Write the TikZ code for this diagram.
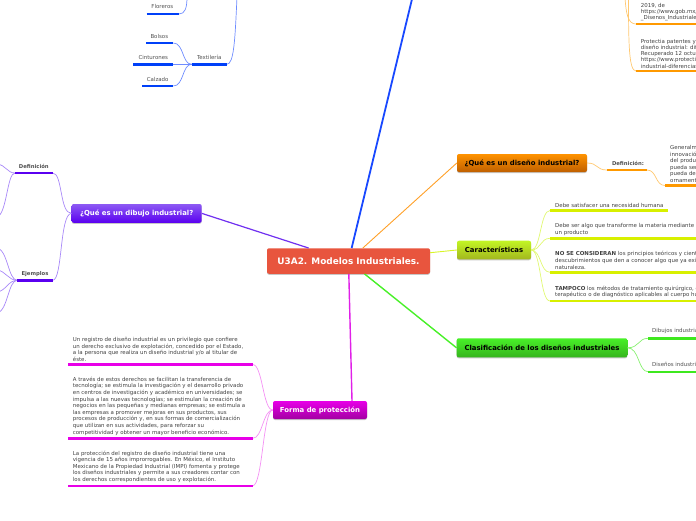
\documentclass[tikz,border=0pt]{standalone}
\usepackage{fontspec}
\setmainfont{DejaVu Sans}
\definecolor{cred}{HTML}{E8553E}
\definecolor{txtc}{HTML}{404040}
\definecolor{lblc}{HTML}{505050}
% main connector colours
\definecolor{mblue}{HTML}{1848FF}
\definecolor{morange}{HTML}{FFA028}
\definecolor{myellow}{HTML}{D8F428}
\definecolor{mgreen}{HTML}{48F028}
\definecolor{mmag}{HTML}{E020E8}
\definecolor{mpurple}{HTML}{7030F0}
% light connector colours
\definecolor{lblue}{HTML}{6E8CFF}
\definecolor{lorange}{HTML}{FFC870}
\definecolor{lyellow}{HTML}{E0F870}
\definecolor{lgreen}{HTML}{88F070}
\definecolor{lmag}{HTML}{F490F4}
\definecolor{lpurple}{HTML}{A888F8}
% underline colours
\definecolor{ublue}{HTML}{0040F8}
\definecolor{uorange}{HTML}{FF9900}
\definecolor{uyellow}{HTML}{D8F000}
\definecolor{ugreen}{HTML}{3EE81E}
\definecolor{umag}{HTML}{E800E8}
\definecolor{upurple}{HTML}{5A00F0}
\begin{document}
\begin{tikzpicture}[x=1pt,y=-1pt,
  para/.style={inner sep=0pt, anchor=south west, align=left, font=\fontsize{5.45}{6.6}\selectfont, text=txtc},
  paratr/.style={para, font=\fontsize{5.45}{6.1}\selectfont},
  lbl/.style={inner sep=0pt, anchor=base, font=\fontsize{5.45}{6}\selectfont, text=lblc},
  blbl/.style={lbl, font=\fontsize{5.3}{6}\selectfont\bfseries},
  ul/.style={line width=2.4pt},
  mainline/.style={line width=1.2pt},
  sub/.style={line width=0.7pt},
  topic/.style={rounded corners=2pt, inner sep=0pt, align=center,
     font=\fontsize{6.9}{7.5}\selectfont\bfseries,
     preaction={fill=black!22, transform canvas={yshift=-1pt}}},
]
\useasboundingbox (0,0) rectangle (696,520);
\clip (0,0) rectangle (696,520);

% ---------- topic nodes ----------
\node[topic, fill=cred, text=white, minimum width=163pt, minimum height=25.5pt,
      font=\fontsize{8.9}{10}\selectfont\bfseries] (c) at (348.5,261) {U3A2. Modelos Industriales.};
\node[topic, top color=orange!85!yellow, bottom color=orange!75!black, minimum width=130pt, minimum height=18pt, text=black] (qdi) at (522,163) {¿Qué es un diseño industrial?};
\node[topic, top color=myellow!90!green, bottom color=myellow!75!black, minimum width=74pt, minimum height=18.6pt, text=black] (car) at (494,250) {Características};
\node[topic, top color=mgreen, bottom color=mgreen!75!black, minimum width=170.6pt, minimum height=19pt, text=black] (cla) at (542,347.8) {Clasificación de los diseños industriales};
\node[topic, top color=umag, bottom color=umag!70!black, minimum width=94pt, minimum height=18pt, text=white] (fp) at (320,410) {Forma de protección};
\node[topic, top color=mpurple!80!white, bottom color=upurple, minimum width=130pt, minimum height=18.7pt, text=white] (qdb) at (136.7,213.4) {¿Qué es un dibujo industrial?};

% ---------- main connectors ----------
\coordinate (topblue) at (413,-5);
\draw[mainline, mblue, line width=1.8pt] (c) -- (topblue);
\draw[mainline, morange, line width=0.9pt] (c) -- (qdi.west);
\draw[mainline, myellow, line width=0.9pt] (c) -- (car.west);
\draw[mainline, mgreen, line width=1.4pt] (c) -- (cla.west);
\draw[mainline, mmag, line width=1.4pt] (c) -- ([xshift=32pt]fp.north);
\draw[mainline, mpurple] (c) -- (qdb.east);

% ---------- blue branch (top left) ----------
\node[lbl] (flo) at (162.3,8.6) {Floreros};
\coordinate (flol) at (146.7,14); \coordinate (flor) at (179,14);
\draw[ul, ublue] (flol) -- (flor);
\coordinate (floup) at (187,-3);
\draw[sub, lblue] (flor) .. controls (185,14) and (187,8) .. (floup);

\node[lbl] (bol) at (159.3,38) {Bolsos};
\coordinate (boll) at (146,43); \coordinate (bolr) at (173.3,43);
\node[lbl] (cin) at (153.3,59.8) {Cinturones};
\coordinate (cinl) at (133.3,64.3); \coordinate (cinr) at (173.3,64.3);
\node[lbl] (cal) at (157.7,81) {Calzado};
\coordinate (call) at (142,86); \coordinate (calr) at (173.3,86);
\node[lbl] (tex) at (209.3,59.8) {Textilería};
\coordinate (texl) at (191.7,64.3); \coordinate (texr) at (226.7,64.3);
\coordinate (texup) at (237,-3);
\draw[sub, lblue] (texl) .. controls (182,64.3) and (184,43) .. (bolr);
\draw[sub, lblue] (texl) -- (cinr);
\draw[sub, lblue] (texl) .. controls (182,64.3) and (184,86) .. (calr);
\draw[sub, lblue] (texr) .. controls (234,64.3) and (235,40) .. (texup);
\draw[ul, ublue] (boll) -- (bolr);
\draw[ul, ublue] (cinl) -- (cinr);
\draw[ul, ublue] (call) -- (calr);
\draw[ul, ublue] (texl) -- (texr);

% ---------- orange branch (right top) ----------
\node[paratr] (t1) at (640.7,21.3) {2019, de\\https://www.gob.mx/impi/articulos/que-son-los\\\_Disenos\_Industriales};
\coordinate (t1l) at (636,24); \coordinate (t1r) at (700,24);
\node[paratr] (t2) at (640.7,68.3) {Protectia patentes y marcas. (2019). Patente y\\diseño industrial: diferencias.\\Recuperado 12 octubre 2019, de\\https://www.protectia.eu/patente-y-diseno-\\industrial-diferencias};
\coordinate (t2l) at (636,71); \coordinate (t2r) at (700,71);
\coordinate (t1up) at (625,-3); \coordinate (t2up) at (628.5,-3);
\draw[sub, lorange] (t1l) .. controls (628,24) and (626,14) .. (t1up);
\draw[sub, lorange] (t2l) .. controls (629,71) and (628.5,45) .. (t2up);
\draw[ul, uorange] (t1l) -- (t1r);
\draw[ul, uorange] (t2l) -- (t2r);

\node[blbl] (def1) at (628,165) {Definición:};
\coordinate (def1l) at (607,170); \coordinate (def1r) at (647,170);
\node[para] (deft) at (670,182.7) {Generalmente, se trata de una\\innovación en la forma o apariencia\\del producto, de manera que\\pueda ser reproducido y que\\pueda destacarse por su aspecto\\ornamental.};
\coordinate (deftl) at (665,185.5); \coordinate (deftr) at (700,185.5);
\draw[sub, lorange] (qdi.east) .. controls (598,163) and (596,170) .. (def1l);
\draw[sub, lorange] (def1r) .. controls (657,170) and (655,185.5) .. (deftl);
\draw[ul, uorange] (def1l) -- (def1r);
\draw[ul, uorange] (deftl) -- (deftr);

% ---------- Características ----------
\node[para] (c1) at (555,207.6) {Debe satisfacer una necesidad humana};
\coordinate (c1l) at (550,210.5); \coordinate (c1r) at (668,210.5);
\node[para] (c2) at (555,235.4) {Debe ser algo que transforme la materia mediante la técnica en\\un producto};
\coordinate (c2l) at (550,238.3); \coordinate (c2r) at (700,238.3);
\node[para] (c3) at (555,269.4) {\textbf{NO SE CONSIDERAN} los principios teóricos y científicos, ni los\\descubrimientos que den a conocer algo que ya existe en la\\naturaleza.};
\coordinate (c3l) at (550,272.3); \coordinate (c3r) at (700,272.3);
\node[para] (c4) at (555,298.1) {\textbf{TAMPOCO} los métodos de tratamiento quirúrgico, o\\terapéutico o de diagnóstico aplicables al cuerpo humano};
\coordinate (c4l) at (550,301); \coordinate (c4r) at (700,301);
\foreach \k in {c1l,c2l,c3l,c4l}{
  \draw[sub, lyellow] (car.east) .. controls +(10,0) and +(-10,0) .. (\k);
}
\draw[ul, uyellow] (c1l) -- (c1r);
\draw[ul, uyellow] (c2l) -- (c2r);
\draw[ul, uyellow] (c3l) -- (c3r);
\draw[ul, uyellow] (c4l) -- (c4r);

% ---------- Clasificación ----------
\node[lbl, anchor=base west] (dib) at (652,332) {Dibujos industriales};
\coordinate (dibl) at (648,338.3); \coordinate (dibr) at (700,338.3);
\node[lbl, anchor=base west] (dis) at (652,366.2) {Diseños industriales};
\coordinate (disl) at (648,371.7); \coordinate (disr) at (700,371.7);
\draw[sub, lgreen] (cla.east) .. controls +(12,0) and +(-10,0) .. (dibl);
\draw[sub, lgreen] (cla.east) .. controls +(12,0) and +(-10,0) .. (disl);
\draw[ul, ugreen] (dibl) -- (dibr);
\draw[ul, ugreen] (disl) -- (disr);

% ---------- Forma de protección ----------
\node[para] (f1) at (72.7,361.5) {Un registro de diseño industrial es un privilegio que confiere\\un derecho exclusivo de explotación, concedido por el Estado,\\a la persona que realiza un diseño industrial y/o al titular de\\éste.};
\coordinate (f1l) at (68,364.5); \coordinate (f1r) at (252.7,364.5);
\node[para] (f2) at (72.7,435.4) {A través de estos derechos se facilitan la transferencia de\\tecnología; se estimula la investigación y el desarrollo privado\\en centros de investigación y académico en universidades; se\\impulsa a las nuevas tecnologías; se estimulan la creación de\\negocios en las pequeñas y medianas empresas; se estimula a\\las empresas a promover mejoras en sus productos, sus\\procesos de producción y, en sus formas de comercialización\\que utilizan en sus actividades, para reforzar su\\competitividad y obtener un mayor beneficio económico.};
\coordinate (f2l) at (68,438.3); \coordinate (f2r) at (252.7,438.3);
\node[para] (f3) at (72.7,482.8) {La protección del registro de diseño industrial tiene una\\vigencia de 15 años improrrogables. En México, el Instituto\\Mexicano de la Propiedad Industrial (IMPI) fomenta y protege\\los diseños industriales y permite a sus creadores contar con\\los derechos correspondientes de uso y explotación.};
\coordinate (f3l) at (68,485.7); \coordinate (f3r) at (252.7,485.7);
\foreach \k in {f1r,f2r,f3r}{
  \draw[sub, lmag] (fp.west) .. controls +(-10,0) and +(10,0) .. (\k);
}
\draw[ul, umag] (f1l) -- (f1r);
\draw[ul, umag] (f2l) -- (f2r);
\draw[ul, umag] (f3l) -- (f3r);

% ---------- ¿Qué es un dibujo industrial? ----------
\node[blbl] (pdef) at (33.8,168) {Definición};
\coordinate (pdefl) at (15,173); \coordinate (pdefr) at (52.7,173);
\node[blbl] (pej) at (35,275.3) {Ejemplos};
\coordinate (pejl) at (17.3,280.3); \coordinate (pejr) at (52.7,280.3);
\draw[sub, lpurple] (qdb.west) .. controls +(-12,0) and +(10,0) .. (pdefr);
\draw[sub, lpurple] (qdb.west) .. controls +(-12,0) and +(10,0) .. (pejr);
\coordinate (pd1) at (-3,164); \coordinate (pd2) at (-3,217);
\coordinate (pe1) at (-3,248); \coordinate (pe2) at (-3,270);
\coordinate (pe3) at (-3,292); \coordinate (pe4) at (-3,313);
\draw[sub, lpurple] (pdefl) .. controls (7,173) and (6,165) .. (pd1);
\draw[sub, lpurple] (pdefl) .. controls (7,173) and (7,214) .. (pd2);
\draw[sub, lpurple] (pejl) .. controls (8,280.3) and (8,250) .. (pe1);
\draw[sub, lpurple] (pejl) .. controls (8,280.3) and (6,271) .. (pe2);
\draw[sub, lpurple] (pejl) .. controls (8,280.3) and (6,291) .. (pe3);
\draw[sub, lpurple] (pejl) .. controls (8,280.3) and (8,311) .. (pe4);
\draw[ul, upurple] (pdefl) -- (pdefr);
\draw[ul, upurple] (pejl) -- (pejr);
\end{tikzpicture}
\end{document}
